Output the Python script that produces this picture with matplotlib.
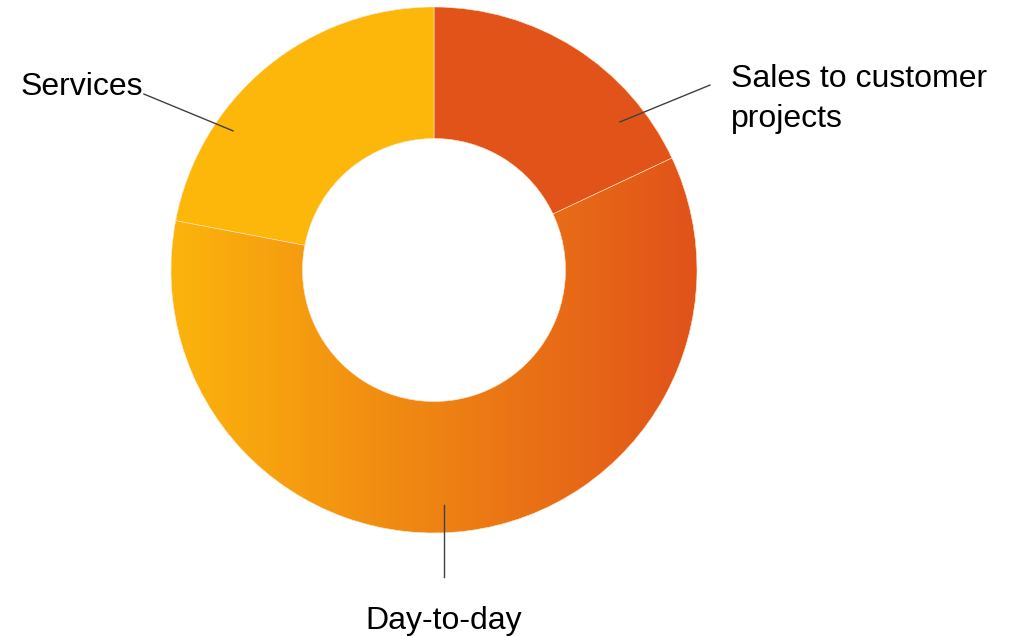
import matplotlib.pyplot as plt
import numpy as np
from matplotlib.colors import LinearSegmentedColormap

plt.rcParams['font.family'] = ['Liberation Sans', 'DejaVu Sans']

labels = ['Sales to customer\nprojects', 'Day-to-day', 'Services']
shares = [18, 60, 22]
colors = ['#E2531A', '#EE8313', '#FDB60A']

fig = plt.figure(figsize=(10.15, 6.36), dpi=100)
# donut centre at (434, 270) px, outer radius 263 px
ax = fig.add_axes([(434 - 263) / 1015, (366 - 263) / 636, 526 / 1015, 526 / 636])

wedges, _ = ax.pie(shares, colors=colors, startangle=90, counterclock=False,
                   radius=1.0, wedgeprops=dict(width=0.5, edgecolor='#FFE8C8', linewidth=0.4))
ax.set_xlim(-1, 1)
ax.set_ylim(-1, 1)
ax.set_aspect('equal')
ax.axis('off')

# horizontal gradient fill for the big slice
grad = LinearSegmentedColormap.from_list('dd', ['#FCB40C', '#E1521A'])
img = ax.imshow(np.linspace(0, 1, 256).reshape(1, -1), cmap=grad, aspect='auto',
                extent=[-1, 1, -1, 1], zorder=wedges[1].get_zorder())
img.set_clip_path(wedges[1])
wedges[1].set_facecolor('none')
wedges[1].set_zorder(img.get_zorder() + 0.1)

# labels with leader lines
fs = 23
ax.plot([0.707, 1.049], [0.563, 0.703], color='#404040', lw=1, clip_on=False)
ax.text(1.129, 0.650, labels[0], fontsize=fs, ha='left', va='center', linespacing=1.45)

ax.plot([0.038, 0.038], [-0.894, -1.167], color='#404040', lw=1, clip_on=False)
ax.text(0.038, -1.335, labels[1], fontsize=fs, ha='center', va='center')

ax.plot([-1.103, -0.764], [0.669, 0.529], color='#404040', lw=1, clip_on=False)
ax.text(-1.574, 0.695, labels[2], fontsize=fs, ha='left', va='center')

fig.savefig('out.png', dpi=100, facecolor='white')
